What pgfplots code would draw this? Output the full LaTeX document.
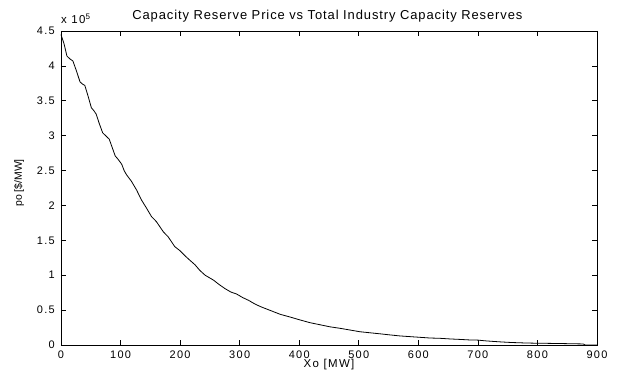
\documentclass[border=0pt]{standalone}
\usepackage{fontspec}
\setmainfont{Liberation Sans}
\newfontfamily\wideft[LetterSpace=12]{Liberation Sans}
\newfontfamily\titleft[LetterSpace=7]{Liberation Sans}
\usepackage{pgfplots}
\pgfplotsset{compat=1.18}
\begin{document}
\begin{tikzpicture}
\begin{axis}[
  scale only axis, width=536bp, height=314bp,
  xmin=0, xmax=900, ymin=0, ymax=450000,
  xtick={0,100,...,900},
  ytick={0,50000,100000,150000,200000,250000,300000,350000,400000,450000},
  yticklabels={0,0.5,1,1.5,2,2.5,3,3.5,4,4.5},
  scaled y ticks=false,
  tick align=inside,
  major tick length=5bp,
  axis line style={line width=0.7bp, black},
  every tick/.style={line width=0.7bp, black},
  /pgf/number format/assume math mode=true,
  tick label style={font=\wideft\fontsize{11}{13}\selectfont},
  xticklabel style={inner sep=0pt, yshift=-6bp},
  yticklabel style={inner sep=0pt, xshift=-6bp},
  xlabel={Xo [MW]},
  xlabel style={font=\wideft\fontsize{11.5}{13}\selectfont, at={(axis description cs:0.5,-0.062)}, anchor=center},
  ylabel={po [\$/MW]},
  ylabel style={font=\fontsize{10.5}{12}\selectfont, at={(axis description cs:-0.0784,0.516)}, anchor=center},
  clip=false,
]
\addplot[black, line width=0.8bp] coordinates {
(0,445000) (5,432000) (10,414000) (15,410000) (20,407000) (25,395000)
(32,377000) (36,374000) (40,372000) (45,358000) (51,340000) (55,336000)
(59,331000) (64,318000) (70,304000) (75,300000) (81,295000) (86,283000)
(91,271000) (96,266000) (102,259000) (106,250000) (110,244000) (118,235000)
(127,222000) (135,208000) (143,197000) (152,184000) (160,177000) (172,162000)
(180,155000) (191,141000) (200,135000) (208,128000) (217,121000) (225,115000)
(233,107000) (242,100000) (256,93000) (265,87000) (275,81000) (285,76000)
(295,73000) (305,68000) (315,64000) (325,59000) (335,55000) (350,50000)
(368,44000) (385,40000) (401,36000) (418,32000) (435,29000) (452,26000)
(468,24000) (485,21500) (502,19000) (519,17500) (536,16000) (552,14500)
(569,13000) (586,12000) (603,11000) (620,10000) (636,9600) (653,8700)
(670,8000) (685,7300) (700,7000) (712,6000) (725,5200) (737,4500)
(756,3600) (776,3000) (795,2600) (815,2400) (845,2000) (877,1500)
(880,0) (900,0)
};
\node[anchor=base west, inner sep=0pt, font=\wideft\fontsize{11.5}{13}\selectfont] at ([yshift=7bp]rel axis cs:0,1) {x 10\textsuperscript{5}};
\node[anchor=center, inner sep=0pt, font=\titleft\fontsize{13}{15}\selectfont] at ([yshift=15bp]axis description cs:0.497,1) {Capacity Reserve Price vs Total Industry Capacity Reserves};
\coordinate (bl) at (rel axis cs:0,0);
\end{axis}
\path (bl) ++(-61bp,-29bp) rectangle ++(620bp,374bp);
\end{tikzpicture}
\end{document}
